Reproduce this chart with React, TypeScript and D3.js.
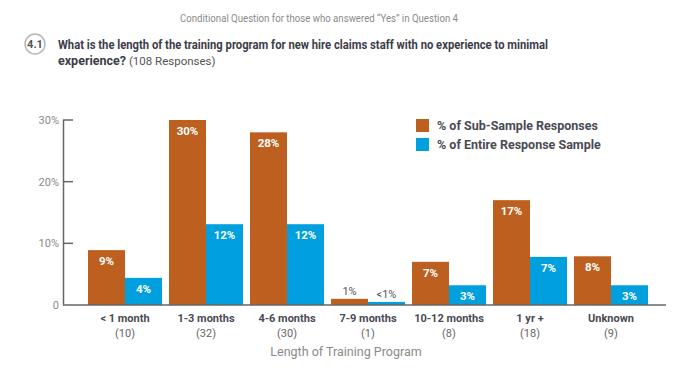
import React from "react";
import * as d3 from "d3";

const categories = ["< 1 month", "1-3 months", "4-6 months", "7-9 months", "10-12 months", "1 yr +", "Unknown"];
const counts = ["(10)", "(32)", "(30)", "(1)", "(8)", "(18)", "(9)"];
const subSample = [8.9, 30, 28, 1, 7, 17, 7.9];
const subSampleLabels = ["9%", "30%", "28%", "1%", "7%", "17%", "8%"];
const entireSample = [4.4, 13.1, 13.1, 0.5, 3.2, 7.8, 3.2];
const entireSampleLabels = ["4%", "12%", "12%", "<1%", "3%", "7%", "3%"];
const yTicks = [0, 10, 20, 30];
const yTickLabels = ["0", "10%", "20%", "30%"];
const seriesNames = ["% of Sub-Sample Responses", "% of Entire Response Sample"];

const ORANGE = "#BC5F1F";
const BLUE = "#009FDD";
const FONT = "Roboto, 'Noto Sans', sans-serif";

export default function App() {
  const W = 679, H = 380;
  const x = d3.scaleBand<string>().domain(categories).range([84.5, 651.5]).paddingInner(7 / 81).paddingOuter(3.5 / 81);
  const y = d3.scaleLinear().domain([0, 30]).range([305, 120]);
  const bw = x.bandwidth() / 2;
  const series = [
    { vals: subSample, labels: subSampleLabels, color: ORANGE, off: 0 },
    { vals: entireSample, labels: entireSampleLabels, color: BLUE, off: bw },
  ];
  return (
    <svg width={W} height={H} style={{ position: "absolute", left: 0, top: 0, fontFamily: FONT }}>
      <rect width={W} height={H} fill="#fff" />
      <text x={180} y={22} fontSize={11.5} fill="#8a8a8a" textLength={278} lengthAdjust="spacingAndGlyphs">
        Conditional Question for those who answered “Yes” in Question 4
      </text>
      <circle cx={35} cy={44} r={10} fill="#fff" stroke="#b5b5b5" strokeWidth={1.5} />
      <text x={35} y={48} textAnchor="middle" fontSize={11} fontWeight="bold" fill="#555">4.1</text>
      <text x={58} y={49} fontSize={12.5} fontWeight="bold" fill="#3d3d4a" textLength={490} lengthAdjust="spacingAndGlyphs">
        What is the length of  the training program for new hire claims staff with no experience to minimal
      </text>
      <text x={58} y={65} fontSize={12.5} fill="#3d3d4a">
        <tspan fontWeight="bold">experience?</tspan>
        <tspan fontSize={11.5} fill="#555"> (108 Responses)</tspan>
      </text>

      {/* y axis */}
      <line x1={63.5} x2={63.5} y1={120} y2={305} stroke="#666" strokeWidth={1.5} />
      {yTicks.map((t, i) => (
        <g key={t}>
          {t > 0 && <line x1={63} x2={73} y1={y(t)} y2={y(t)} stroke="#666" strokeWidth={1.5} />}
          <text x={59} y={y(t) + 4} textAnchor="end" fontSize={11} fill="#8a8a8a">{yTickLabels[i]}</text>
        </g>
      ))}

      {/* bars */}
      {series.map((s, si) =>
        categories.map((c, i) => {
          const bx = (x(c) as number) + s.off;
          const top = y(s.vals[i]);
          const h = 305 - top;
          const inside = s.vals[i] >= 2;
          return (
            <g key={si + "-" + i}>
              <rect x={bx} y={top} width={bw} height={h} fill={s.color} />
              {inside ? (
                <text x={bx + bw / 2} y={top + 15} textAnchor="middle" fontSize={11.5} fontWeight="bold" fill="#fff">
                  {s.labels[i]}
                </text>
              ) : (
                <text x={bx + bw / 2} y={top - 4} textAnchor="middle" fontSize={11} fill="#555">
                  {s.labels[i]}
                </text>
              )}
            </g>
          );
        })
      )}
      <line x1={63} x2={666} y1={305} y2={305} stroke="#666" strokeWidth={1.5} />

      {/* x labels */}
      {categories.map((c, i) => {
        const cx = (x(c) as number) + x.bandwidth() / 2;
        return (
          <g key={c}>
            <text x={cx} y={322} textAnchor="middle" fontSize={11} fontWeight="bold" fill="#4a4a55">{c}</text>
            <text x={cx} y={337} textAnchor="middle" fontSize={11} fill="#666">{counts[i]}</text>
          </g>
        );
      })}
      <text x={346} y={356} textAnchor="middle" fontSize={12.5} fill="#8a8a8a">Length of Training Program</text>

      {/* legend */}
      {seriesNames.map((n, i) => (
        <g key={n}>
          <rect x={416} y={119 + i * 19} width={13} height={13} fill={i === 0 ? ORANGE : BLUE} />
          <text x={437} y={130 + i * 19} fontSize={12.5} fontWeight="bold" fill="#4a4a55">{n}</text>
        </g>
      ))}
    </svg>
  );
}
